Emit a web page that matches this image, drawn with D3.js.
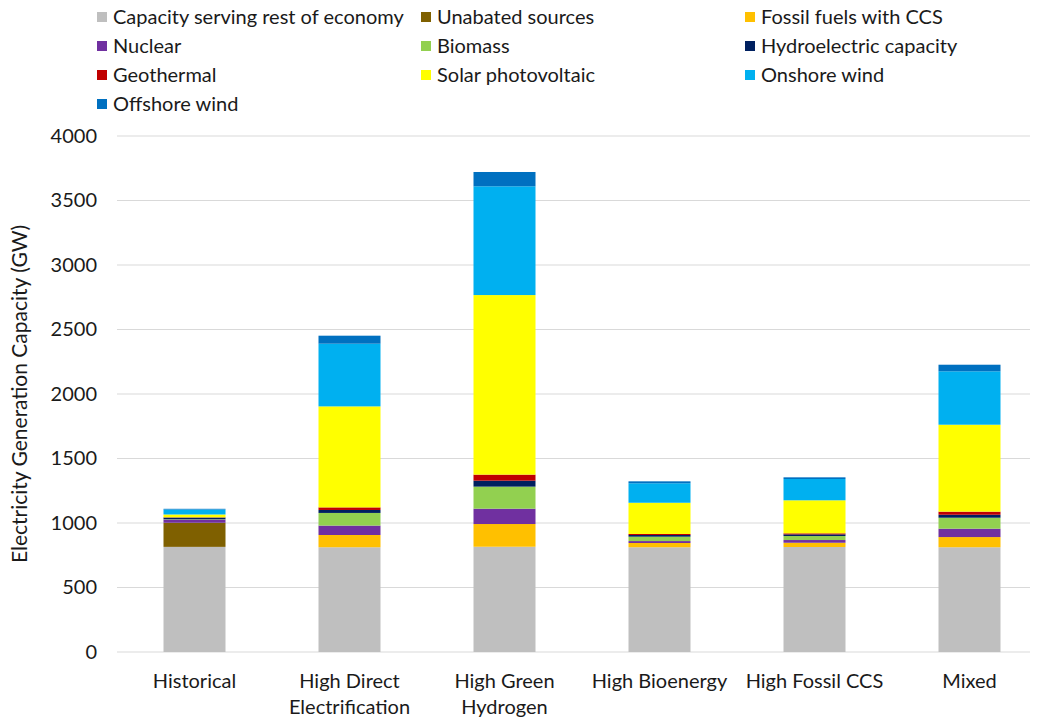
<!DOCTYPE html>
<html>
<head>
<meta charset="utf-8">
<script src="https://cdn.jsdelivr.net/npm/d3@7"></script>
<style>
  html, body { margin: 0; padding: 0; background: #fff; }
  text { font-family: Lato, "Open Sans", sans-serif; fill: #1a1a1a; }
</style>
</head>
<body>
<svg id="chart" width="1038" height="722"></svg>
<script>
// Scenario categories (x axis)
const categories = ["Historical", "High Direct Electrification", "High Green Hydrogen",
                    "High Bioenergy", "High Fossil CCS", "Mixed"];
const categoryLines = [["Historical"], ["High Direct", "Electrification"], ["High Green", "Hydrogen"],
                       ["High Bioenergy"], ["High Fossil CCS"], ["Mixed"]];

// Generation capacity by source, GW, one value per scenario
const restOfEconomy = [815, 812, 816, 812, 814, 812];
const unabated      = [187,   0,   0,   0,   0,   0];
const fossilCCS     = [  0,  95, 176,  33,  33,  79];
const nuclear       = [ 24,  73, 119,  15,  21,  65];
const biomass       = [  3,  98, 171,  34,  31,  85];
const hydro         = [ 13,  23,  46,  13,  13,  23];
const geothermal    = [  2,  20,  47,   8,   8,  24];
const solarPV       = [ 22, 783, 1392, 242, 256, 674];
const onshoreWind   = [ 39, 486, 843, 151, 165, 414];
const offshoreWind  = [  5,  62, 111,  15,  13,  51];

const seriesNames = ["Capacity serving rest of economy", "Unabated sources", "Fossil fuels with CCS",
                     "Nuclear", "Biomass", "Hydroelectric capacity", "Geothermal",
                     "Solar photovoltaic", "Onshore wind", "Offshore wind"];
const seriesValues = [restOfEconomy, unabated, fossilCCS, nuclear, biomass, hydro,
                      geothermal, solarPV, onshoreWind, offshoreWind];
const seriesColors = ["#bfbfbf", "#7f6000", "#ffc000", "#7030a0", "#92d050", "#002060",
                      "#c00000", "#ffff00", "#00b0f0", "#0070c0"];

const yTicks = [0, 500, 1000, 1500, 2000, 2500, 3000, 3500, 4000];

const svg = d3.select("#chart");

// Build table rows for the stack layout
const keys = seriesNames;
const rows = categories.map((c, i) => {
  const r = { category: c };
  keys.forEach((k, j) => { r[k] = seriesValues[j][i]; });
  return r;
});
const stacked = d3.stack().keys(keys)(rows);

const x = d3.scaleBand().domain(categories).range([117, 1047]).paddingInner(0.6).paddingOuter(0.3);
const y = d3.scaleLinear().domain([0, 4000]).range([652, 136]);

// Horizontal gridlines
svg.append("g").selectAll("line").data(yTicks).join("line")
  .attr("x1", 117).attr("x2", 1030)
  .attr("y1", d => y(d)).attr("y2", d => y(d))
  .attr("stroke", "#d9d9d9").attr("stroke-width", 1);

// Y axis labels
const yAxis = svg.append("g").attr("transform", "translate(97,0)")
  .call(d3.axisLeft(y).tickValues(yTicks).tickFormat(d3.format("d")).tickSize(0).tickPadding(0));
yAxis.select(".domain").remove();
yAxis.selectAll("text").style("font-size", "20px").style("font-family", "Lato, sans-serif").attr("fill", "#1a1a1a");

// Y axis title
svg.append("text")
  .attr("transform", `translate(27,${(y(0) + y(4000)) / 2}) rotate(-90)`)
  .attr("text-anchor", "middle")
  .style("font-size", "21px")
  .text("Electricity Generation Capacity (GW)");

// Stacked bars
svg.append("g").selectAll("g").data(stacked).join("g")
  .attr("fill", (d, i) => seriesColors[i])
  .selectAll("rect").data(d => d).join("rect")
  .attr("x", d => x(d.data.category))
  .attr("width", x.bandwidth())
  .attr("y", d => y(d[1]))
  .attr("height", d => Math.max(0, y(d[0]) - y(d[1])));

// Category labels
const xl = svg.append("g");
categories.forEach((c, i) => {
  const t = xl.append("text")
    .attr("x", x(c) + x.bandwidth() / 2)
    .attr("y", 688)
    .attr("text-anchor", "middle")
    .style("font-size", "20px");
  categoryLines[i].forEach((line, j) => {
    t.append("tspan").attr("x", x(c) + x.bandwidth() / 2).attr("dy", j === 0 ? 0 : 26).text(line);
  });
});

// Legend: three columns
const legendX = [97, 421, 745];
const legendY = [17, 46, 75, 104];
const legend = svg.append("g");
seriesNames.forEach((name, i) => {
  const col = i % 3, row = Math.floor(i / 3);
  const g = legend.append("g").attr("transform", `translate(${legendX[col]},${legendY[row]})`);
  g.append("rect").attr("x", 0).attr("y", -5).attr("width", 10).attr("height", 10).attr("fill", seriesColors[i]);
  g.append("text").attr("x", 16).attr("y", 0).attr("dy", "0.35em").style("font-size", "20px").text(name);
});
</script>
</body>
</html>
